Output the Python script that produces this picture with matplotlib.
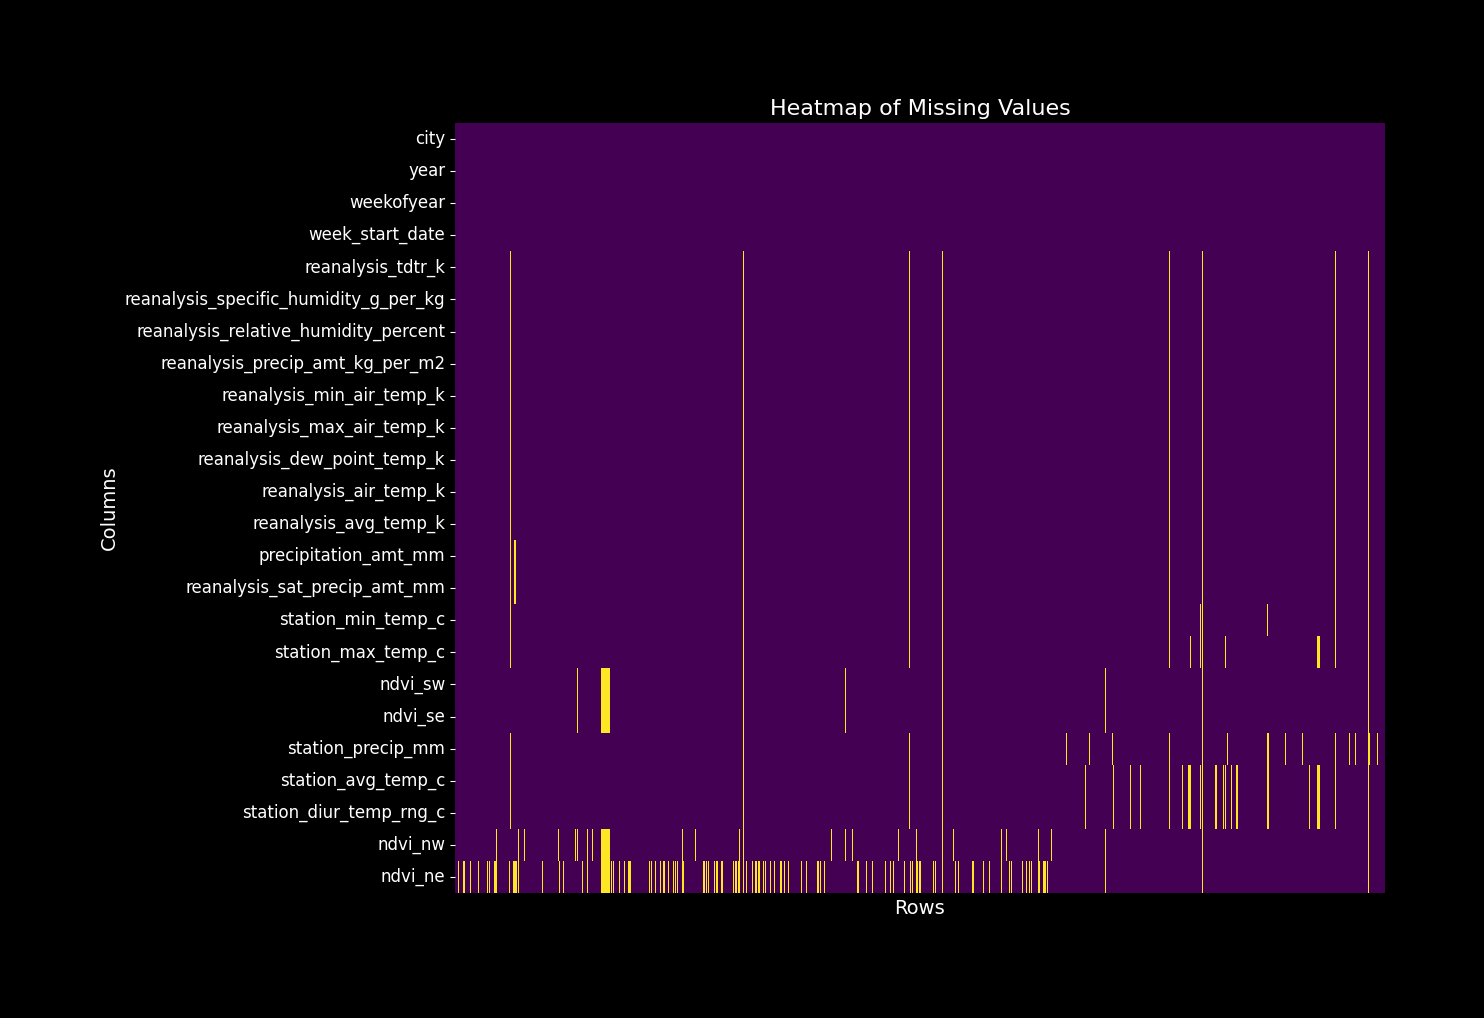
import numpy as np
import pandas as pd
import matplotlib
matplotlib.use('Agg')
import matplotlib.pyplot as plt
import seaborn as sns

n_rows = 1456

columns = ['city', 'year', 'weekofyear', 'week_start_date',
           'reanalysis_tdtr_k', 'reanalysis_specific_humidity_g_per_kg',
           'reanalysis_relative_humidity_percent', 'reanalysis_precip_amt_kg_per_m2',
           'reanalysis_min_air_temp_k', 'reanalysis_max_air_temp_k',
           'reanalysis_dew_point_temp_k', 'reanalysis_air_temp_k',
           'reanalysis_avg_temp_k', 'precipitation_amt_mm',
           'reanalysis_sat_precip_amt_mm', 'station_min_temp_c',
           'station_max_temp_c', 'ndvi_sw', 'ndvi_se', 'station_precip_mm',
           'station_avg_temp_c', 'station_diur_temp_rng_c', 'ndvi_nw', 'ndvi_ne']

# missing row indices, (a, b) means rows a..b inclusive
reanalysis_missing = [86, 451, 711, 763, 1118, 1170, 1378, 1430]
precip_missing = reanalysis_missing + [(93, 94)]
station_min_missing = [86, 451, 711, 763, 1118, 1167, 1170, 1272, 1378, 1430]
station_max_missing = [86, 451, 711, 763, 1118, 1151, 1167, 1170, 1206,
                       (1350, 1353), 1378, 1430]
ndvi_s_missing = [191, (229, 241), 451, 611, 763, 1018, 1170, 1430]
station_precip_missing = [86, 451, 711, 763, 957, 993, 1029, 1118, 1170, 1209,
                          (1272, 1273), 1300, 1326, 1378, 1400, 1409, 1430,
                          1431, 1444]
station_temp_missing = [86, 451, 711, 763, 987, 1030, 1057, 1073, 1118, 1138,
                        (1148, 1151), 1167, 1170, (1190, 1192), 1203, 1206,
                        1215, (1223, 1225), (1272, 1273), 1337, (1350, 1353),
                        1378, 1430]
ndvi_nw_missing = [64, 99, 108, 162, 188, 191, 207, 215, (229, 241), 356, 376,
                   445, 451, 589, 611, 622, 694, 722, 763, 780, 855, 863, 913,
                   933, 1018, 1170, 1430]
ndvi_ne_missing = [5, (13, 14), 24, 36, 50, 54, (61, 64), 85, (91, 96), 99, 136,
                   163, 169, 199, 207, (229, 241), 245, 248, 257, 265, (271, 274),
                   304, 307, 313, 321, (326, 328), 334, 342, 345, 348, (356, 358),
                   (389, 390), 393, 396, 406, (409, 411), (417, 419), 436,
                   (439, 441), (443, 445), 451, 456, 465, (470, 472), (475, 477),
                   482, 486, 493, 500, (509, 511), 515, 522, 542, 550, (567, 569),
                   572, 578, (630, 631), 644, 653, 673, 681, 686, 703, 713, 716,
                   (722, 724), (727, 728), 749, 752, 763, 783, 788, (810, 811),
                   827, 836, 855, 868, 871, 888, 894, 899, 902, (913, 915),
                   (921, 924), 927, 1018, 1170, 1430]

missing_by_column = {
    'reanalysis_tdtr_k': reanalysis_missing,
    'reanalysis_specific_humidity_g_per_kg': reanalysis_missing,
    'reanalysis_relative_humidity_percent': reanalysis_missing,
    'reanalysis_precip_amt_kg_per_m2': reanalysis_missing,
    'reanalysis_min_air_temp_k': reanalysis_missing,
    'reanalysis_max_air_temp_k': reanalysis_missing,
    'reanalysis_dew_point_temp_k': reanalysis_missing,
    'reanalysis_air_temp_k': reanalysis_missing,
    'reanalysis_avg_temp_k': reanalysis_missing,
    'precipitation_amt_mm': precip_missing,
    'reanalysis_sat_precip_amt_mm': precip_missing,
    'station_min_temp_c': station_min_missing,
    'station_max_temp_c': station_max_missing,
    'ndvi_sw': ndvi_s_missing,
    'ndvi_se': ndvi_s_missing,
    'station_precip_mm': station_precip_missing,
    'station_avg_temp_c': station_temp_missing,
    'station_diur_temp_rng_c': station_temp_missing,
    'ndvi_nw': ndvi_nw_missing,
    'ndvi_ne': ndvi_ne_missing,
}


def expand(items):
    idx = []
    for it in items:
        if isinstance(it, tuple):
            idx.extend(range(it[0], it[1] + 1))
        else:
            idx.append(it)
    return idx


is_null = pd.DataFrame(False, index=range(n_rows), columns=columns)
for col, items in missing_by_column.items():
    is_null.loc[expand(items), col] = True

plt.style.use('dark_background')
fig = plt.figure(figsize=(14.84, 10.18), dpi=100)
ax = fig.add_axes([455 / 1484, 1 - 893 / 1018, 930 / 1484, 770 / 1018])

sns.heatmap(is_null.T, cbar=False, cmap='viridis', xticklabels=False,
            yticklabels=True, ax=ax)
ax.tick_params(axis='y', labelsize=12, colors='white')
ax.set_title('Heatmap of Missing Values', fontsize=16)
ax.set_xlabel('Rows', fontsize=14)
ax.set_ylabel('Columns', fontsize=14)

fig.savefig('out.png', dpi=100, facecolor='black')
